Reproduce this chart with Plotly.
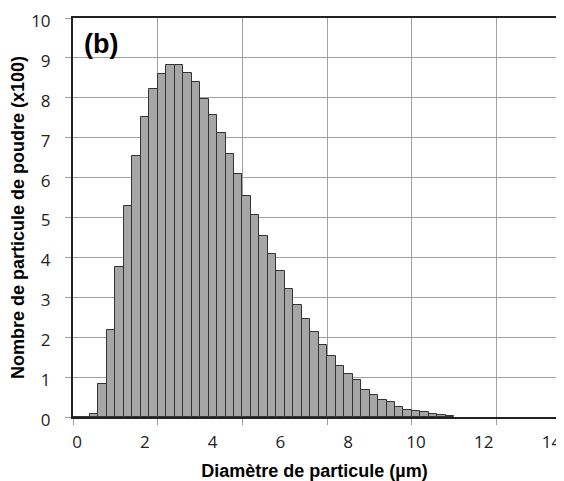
import plotly.graph_objects as go

# bin start (um, on the gridline axis) and particle count (x100)
bin_start = [0.0, 0.2, 0.4, 0.6, 0.8, 1.0, 1.2, 1.4, 1.6, 1.8,
             2.0, 2.2, 2.4, 2.6, 2.8, 3.0, 3.2, 3.4, 3.6, 3.8,
             4.0, 4.2, 4.4, 4.6, 4.8, 5.0, 5.2, 5.4, 5.6, 5.8,
             6.0, 6.2, 6.4, 6.6, 6.8, 7.0, 7.2, 7.4, 7.6, 7.8,
             8.0, 8.2, 8.4, 8.6, 8.8]
counts = [0.01, 0.01, 0.08, 0.83, 2.17, 3.77, 5.28, 6.53, 7.52, 8.22,
          8.60, 8.83, 8.83, 8.63, 8.40, 7.98, 7.58, 7.12, 6.59, 6.08,
          5.55, 5.06, 4.53, 4.09, 3.65, 3.20, 2.80, 2.45, 2.12, 1.80,
          1.52, 1.28, 1.09, 0.93, 0.68, 0.55, 0.43, 0.37, 0.25, 0.18,
          0.14, 0.12, 0.08, 0.04, 0.025]
bin_width = 0.2

x_tick_vals = [0, 2, 4, 6, 8, 10, 12, 14]
y_tick_vals = [0, 1, 2, 3, 4, 5, 6, 7, 8, 9, 10]

tick_font = dict(family="Open Sans, Liberation Sans, Arial", size=17, color="#222")
title_font = dict(family="Liberation Sans, Arial", size=18, color="black")

fig = go.Figure()

fig.add_trace(go.Bar(
    x=[b + bin_width / 2 for b in bin_start], y=counts, width=bin_width,
    marker=dict(color="#a6a6a6", line=dict(color="#333333", width=1)),
    xaxis="x2", yaxis="y", showlegend=False
))

# invisible trace so the label axis is drawn
fig.add_trace(go.Scatter(x=[x_tick_vals[0], x_tick_vals[-1]], y=[0, 0],
                         mode="markers", marker=dict(opacity=0),
                         xaxis="x", yaxis="y", showlegend=False,
                         hoverinfo="skip"))

# the page body has an 8px margin, so the margins are shifted to compensate
fig.update_layout(
    width=564, height=481,
    margin=dict(l=65, r=16, t=10, b=72),
    plot_bgcolor="white", paper_bgcolor="white",
    xaxis=dict(
        range=[-0.12, 14.13], tickvals=x_tick_vals, showgrid=False,
        zeroline=False, ticks="", showline=False, tickfont=tick_font,
        ticklabelstandoff=13, automargin=False, ticklabeloverflow="allow",
        title=dict(text="<b>Diamètre de particule (µm)</b>", font=title_font,
                   standoff=12),
    ),
    xaxis2=dict(
        range=[0, 11.4], dtick=2, tick0=0, overlaying="x", side="bottom",
        showgrid=True, gridcolor="#a0a0a0", gridwidth=1, zeroline=False,
        showticklabels=False, ticks="outside", ticklen=6, tickcolor="#a0a0a0",
        showline=True, mirror=True, linecolor="#222", linewidth=2,
        automargin=False,
    ),
    yaxis=dict(
        range=[0, 10], tickvals=y_tick_vals, showgrid=True,
        gridcolor="#a0a0a0", gridwidth=1, zeroline=False,
        ticks="outside", ticklen=6, tickcolor="#a0a0a0",
        showline=True, mirror=True, linecolor="#222", linewidth=2,
        tickfont=tick_font, ticklabelstandoff=11, ticklabelshift=3,
        automargin=False, ticklabeloverflow="allow",
        title=dict(text="<b>Nombre de particule de poudre (x100)</b>",
                   font=title_font, standoff=3),
    ),
    bargap=0,
)

fig.add_annotation(text="<b>(b)</b>", xref="paper", yref="paper",
                   x=0.018, y=0.935, xanchor="left", yanchor="middle",
                   showarrow=False,
                   font=dict(family="Liberation Sans, Arial", size=27, color="black"))

fig.write_html("out.html")
